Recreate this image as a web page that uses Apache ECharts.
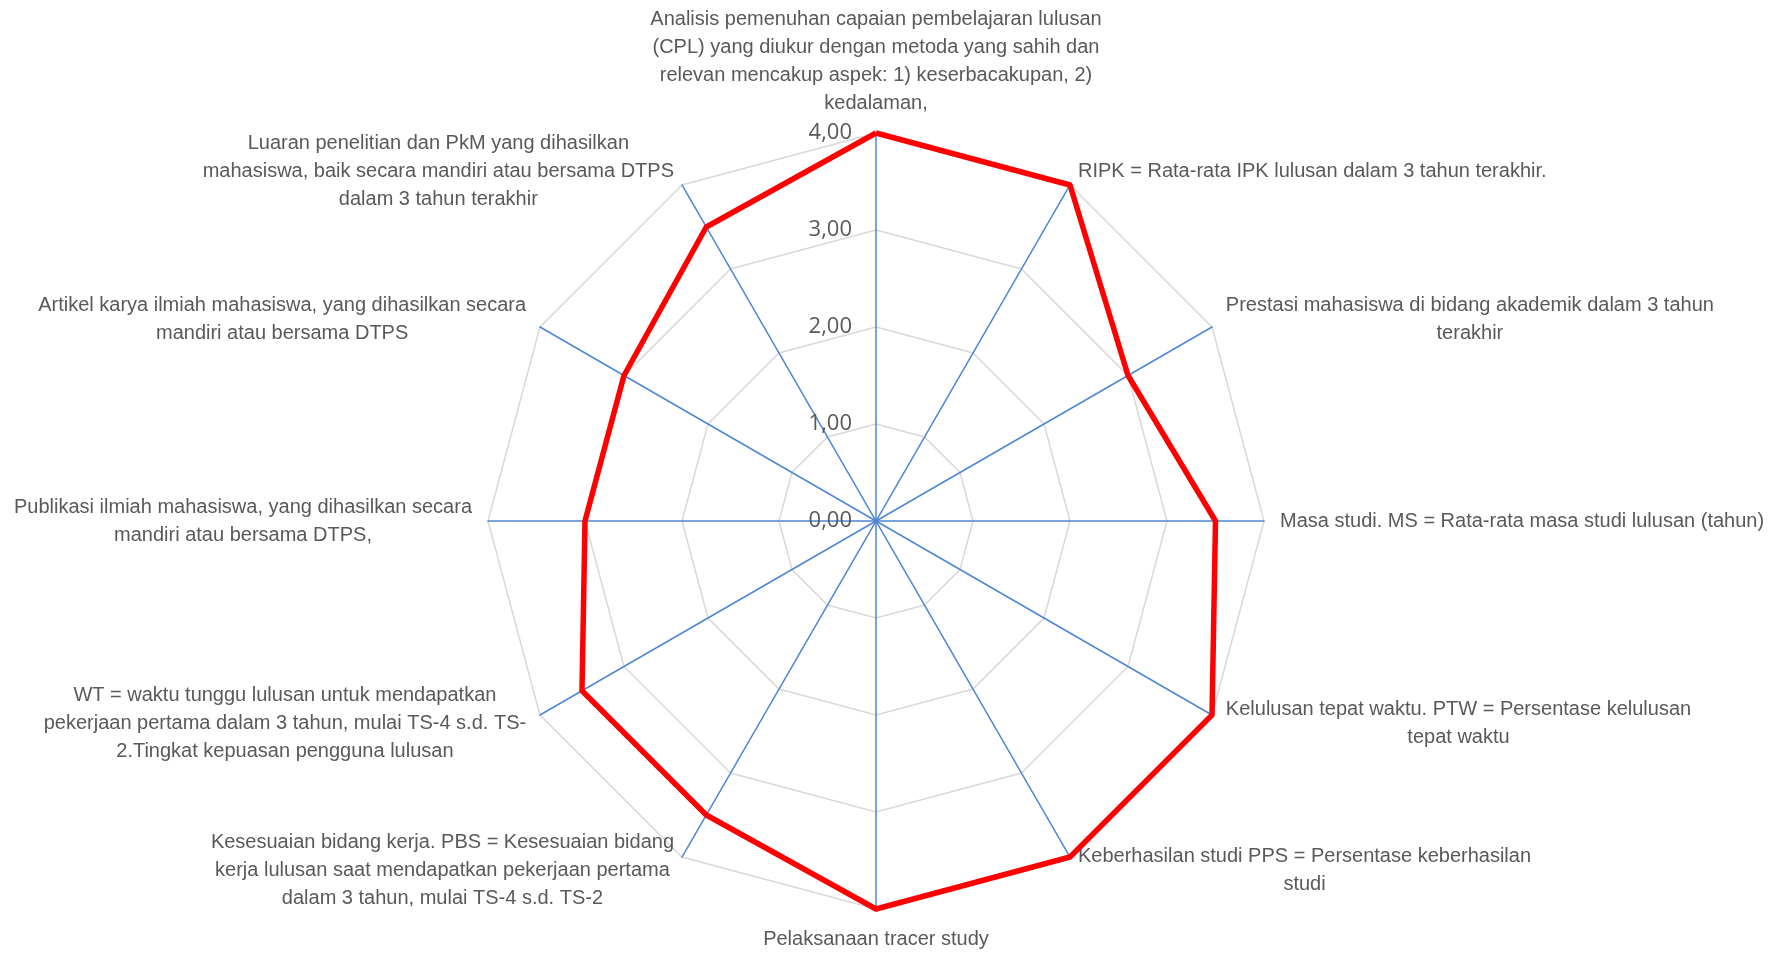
<!DOCTYPE html>
<html>
<head>
<meta charset="utf-8">
<script src="https://cdn.jsdelivr.net/npm/echarts@6/dist/echarts.min.js"></script>
<style>
  html, body { margin: 0; padding: 0; background: #fff; }
  #chart { width: 1773px; height: 954px; }
</style>
</head>
<body>
<div id="chart"></div>
<script>
// criteria, clockwise from the top
const criteria = [
    'Analisis pemenuhan capaian pembelajaran lulusan\n(CPL) yang diukur dengan metoda yang sahih dan\nrelevan mencakup aspek: 1) keserbacakupan, 2)\nkedalaman,',
    'RIPK = Rata-rata IPK lulusan dalam 3 tahun terakhir.',
    'Prestasi mahasiswa di bidang akademik dalam 3 tahun\nterakhir',
    'Masa studi. MS = Rata-rata masa studi lulusan (tahun)',
    'Kelulusan tepat waktu. PTW = Persentase kelulusan\ntepat waktu',
    'Keberhasilan studi PPS = Persentase keberhasilan\nstudi',
    'Pelaksanaan tracer study',
    'Kesesuaian bidang kerja. PBS = Kesesuaian bidang\nkerja lulusan saat mendapatkan pekerjaan pertama\ndalam 3 tahun, mulai TS-4 s.d. TS-2',
    'WT = waktu tunggu lulusan untuk mendapatkan\npekerjaan pertama dalam 3 tahun, mulai TS-4 s.d. TS-\n2.Tingkat kepuasan pengguna lulusan',
    'Publikasi ilmiah mahasiswa, yang dihasilkan secara\nmandiri atau bersama DTPS,',
    'Artikel karya ilmiah mahasiswa, yang dihasilkan secara\nmandiri atau bersama DTPS',
    'Luaran penelitian dan PkM yang dihasilkan\nmahasiswa, baik secara mandiri atau bersama DTPS\ndalam 3 tahun terakhir'
];
const scores = [4, 4, 3, 3.5, 4, 4, 4, 3.5, 3.5, 3, 3, 3.5];
const maxScore = 4;

const textFont = '"Liberation Sans Narrow", "Arial Narrow", "Liberation Sans", sans-serif';

// echarts draws radar indicators counter-clockwise, so flip the order
const order = [0].concat(criteria.map((_, i) => i).slice(1).reverse());

const indicators = order.map((i, k) => {
    const ind = { name: criteria[i], max: maxScore, min: 0 };
    if (k === 0) {
        ind.axisLabel = { show: true };
    }
    return ind;
});

const chart = echarts.init(document.getElementById('chart'));
chart.setOption({
    backgroundColor: '#ffffff',
    animation: false,
    radar: {
        center: [876, 521],
        radius: 388,
        startAngle: 90,
        splitNumber: 4,
        shape: 'polygon',
        indicator: indicators,
        nameGap: 16,
        axisName: {
            color: '#595959',
            fontFamily: textFont,
            fontSize: 20,
            lineHeight: 28,
            formatter: name => name.split('\n').map(l => '{c|' + l + '}').join('\n'),
            rich: {
                c: {
                    align: 'center',
                    color: '#595959',
                    fontFamily: textFont,
                    fontSize: 20,
                    lineHeight: 28
                }
            }
        },
        axisLine: { lineStyle: { color: '#4f86d4', width: 1.5 } },
        splitLine: { lineStyle: { color: '#d9d9d9', width: 1.5 } },
        splitArea: { show: false },
        axisTick: { show: false },
        axisLabel: {
            show: false,
            color: '#595959',
            fontSize: 22,
            margin: 24,
            fontFamily: '"Open Sans", "Noto Sans", sans-serif',
            formatter: v => v.toFixed(2).replace('.', ',')
        }
    },
    series: [{
        type: 'radar',
        symbol: 'none',
        lineStyle: { color: '#ff0000', width: 5.5 },
        data: [{ value: order.map(i => scores[i]) }]
    }]
});
</script>
</body>
</html>
